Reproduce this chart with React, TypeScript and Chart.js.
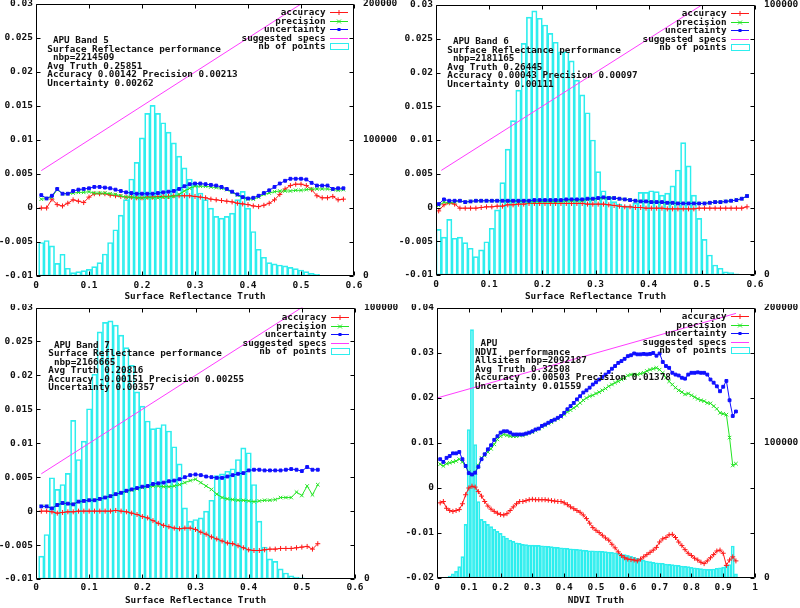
import React, { useEffect, useRef } from "react";
import { Chart, registerables } from "chart.js";

Chart.register(...registerables);

const MONO = "'DejaVu Sans Mono', 'Liberation Mono', monospace";
const RED = "rgb(255,25,25)";
const GREEN = "rgb(35,228,35)";
const BLUE = "rgb(15,15,255)";
const MAGENTA = "rgb(255,60,255)";
const CYAN = "rgb(45,238,238)";
const BIN = 0.01;

// ---------------- Band 5 (first bin / first point at truth 0.01) ----------------
const b5Counts = [
  24600, 26100, 22100, 9300, 16000, 5700, 2500, 3200, 3900, 4900,
  6900, 9800, 16200, 24600, 34000, 44800, 56100, 71300, 83600, 101600,
  119600, 125500, 119600, 112700, 105800, 97900, 88100, 79500, 71300, 67200,
  61000, 56100, 49900, 43800, 42600, 43800, 46200, 56100, 62200, 49900,
  32700, 19700, 13800, 9800, 8900, 8100, 7400, 6400, 5400, 4400,
  3200, 2000, 1200, 500, 200,
];
const b5Accuracy = [
  0, 0, 0.0013, 0.0005, 0.0003, 0.0007, 0.0012, 0.001, 0.0008, 0.0016,
  0.0021, 0.0021, 0.0021, 0.0019, 0.0018, 0.0017, 0.0016, 0.0016, 0.0015, 0.0015,
  0.0016, 0.0016, 0.0017, 0.0017, 0.0017, 0.0018, 0.0018, 0.0018, 0.0018, 0.0017,
  0.0016, 0.0015, 0.0013, 0.0012, 0.0011, 0.001, 0.0009, 0.0007, 0.0006, 0.0005,
  0.0003, 0.0002, 0.0004, 0.0007, 0.0012, 0.002, 0.0028, 0.0033, 0.0035, 0.0035,
  0.0033, 0.0027, 0.0018, 0.0015, 0.0015, 0.0017, 0.0012, 0.0013,
];
const b5Precision = [
  0.0013, 0.0014, 0.0016, 0.0027, 0.0021, 0.0021, 0.0022, 0.0023, 0.0023, 0.0024,
  0.0022, 0.0022, 0.0022, 0.0021, 0.002, 0.0018, 0.0016, 0.0016, 0.0015, 0.0015,
  0.0015, 0.0015, 0.0015, 0.0016, 0.0016, 0.0017, 0.002, 0.0025, 0.0029, 0.0032,
  0.0032, 0.0032, 0.0031, 0.003, 0.0029, 0.0027, 0.0023, 0.0019, 0.0015, 0.0013,
  0.0013, 0.0016, 0.002, 0.0022, 0.0024, 0.0025, 0.0025, 0.0025, 0.0026, 0.0026,
  0.0027, 0.0028, 0.0028, 0.0028, 0.0028, 0.0027, 0.0026, 0.0027,
];
const b5Uncertainty = [
  0.0019, 0.0014, 0.0018, 0.0028, 0.0021, 0.0021, 0.0025, 0.0027, 0.0028, 0.0029,
  0.0031, 0.0031, 0.003, 0.0029, 0.0027, 0.0025, 0.0023, 0.0022, 0.0021, 0.0021,
  0.0021, 0.0021, 0.0022, 0.0023, 0.0024, 0.0025, 0.0028, 0.0032, 0.0035, 0.0036,
  0.0036, 0.0035, 0.0034, 0.0033, 0.0031, 0.0028, 0.0024, 0.002, 0.0016, 0.0014,
  0.0015, 0.0018, 0.0022, 0.0026, 0.0031, 0.0036, 0.004, 0.0043, 0.0043, 0.0043,
  0.0042, 0.0037, 0.0033, 0.0033, 0.0033, 0.0028, 0.0029, 0.0029,
];

// ---------------- Band 6 (first bin / first point at truth 0.005) ----------------
const b6Counts = [
  16900, 14000, 20600, 13600, 14000, 12000, 9900, 6800, 9300, 12300,
  17300, 24100, 34200, 46600, 57200, 68500, 85800, 95500, 97800, 95100,
  92600, 89500, 86200, 82700, 82700, 79300, 72200, 66700, 60100, 50000,
  38300, 31200, 29000, 27200, 26300, 25600, 25600, 26600, 30600, 30600,
  31200, 30900, 29600, 30300, 33000, 38900, 49000, 40400, 29600, 21000,
  13200, 7400, 3700, 2500, 1200, 900, 400, 100,
];
const b6Accuracy = [
  -0.0005, 0.0004, 0.0007, 0.0005, -0.0001, -0.0001, -0.0001, -0.0001, 0, 0.0001,
  0.0001, 0.0002, 0.0002, 0.0004, 0.0004, 0.0005, 0.0005, 0.0006, 0.0006, 0.0006,
  0.0006, 0.0006, 0.0006, 0.0006, 0.0006, 0.0006, 0.0006, 0.0006, 0.0005, 0.0005,
  0.0005, 0.0005, 0.0004, 0.0003, 0.0002, 0.0001, 0.0001, 0, 0, -0.0001,
  -0.0001, -0.0001, -0.0001, -0.0002, -0.0002, -0.0002, -0.0002, -0.0002, -0.0002, -0.0001,
  -0.0001, -0.0001, -0.0001, -0.0001, -0.0001, -0.0001, -0.0001, -0.0001, 0.0001,
];
const b6Precision = [
  0.0003, 0.0008, 0.0007, 0.0008, 0.001, 0.0008, 0.0009, 0.001, 0.001, 0.001,
  0.001, 0.001, 0.001, 0.0009, 0.0009, 0.0009, 0.0009, 0.0008, 0.0009, 0.0009,
  0.0009, 0.0009, 0.0009, 0.0009, 0.001, 0.001, 0.001, 0.001, 0.0012, 0.0012,
  0.0013, 0.0014, 0.0014, 0.0014, 0.0013, 0.0012, 0.0011, 0.001, 0.0009, 0.0009,
  0.0008, 0.0008, 0.0007, 0.0007, 0.0006, 0.0006, 0.0006, 0.0006, 0.0006, 0.0006,
  0.0006, 0.0007, 0.0008, 0.0008, 0.0009, 0.001, 0.0011, 0.0013, 0.0017,
];
const b6Uncertainty = [
  0.0005, 0.0012, 0.001, 0.001, 0.001, 0.0008, 0.0009, 0.001, 0.001, 0.001,
  0.001, 0.001, 0.001, 0.001, 0.001, 0.001, 0.001, 0.001, 0.0011, 0.0011,
  0.0011, 0.0011, 0.0011, 0.0011, 0.0012, 0.0012, 0.0012, 0.0012, 0.0013, 0.0013,
  0.0014, 0.0015, 0.0014, 0.0014, 0.0013, 0.0012, 0.0011, 0.001, 0.0009, 0.0009,
  0.0008, 0.0008, 0.0008, 0.0007, 0.0007, 0.0006, 0.0006, 0.0006, 0.0006, 0.0006,
  0.0006, 0.0007, 0.0008, 0.0008, 0.0009, 0.001, 0.0011, 0.0013, 0.0017,
];

// ---------------- Band 7 (first bin / first point at truth 0.01) ----------------
const b7Counts = [
  8400, 16400, 37300, 33000, 34800, 38900, 58400, 44000, 50800, 62700,
  75400, 91000, 94500, 95100, 93500, 89800, 85200, 78700, 68900, 63700,
  58200, 55400, 55700, 56900, 54500, 48700, 42400, 26200, 21300, 21900,
  22500, 25000, 29000, 38100, 38700, 39700, 40600, 44000, 48300, 46500,
  34800, 21300, 11800, 7400, 6500, 3700, 2200, 1200, 700, 400,
  100,
];
const b7Accuracy = [
  0, 0, -0.0001, -0.0003, -0.0002, -0.0001, -0.0001, 0, 0, 0,
  0, 0, 0, 0, 0.0001, 0, -0.0001, -0.0003, -0.0005, -0.0008,
  -0.001, -0.0014, -0.0018, -0.0021, -0.0023, -0.0025, -0.0026, -0.0025, -0.0025, -0.0027,
  -0.0031, -0.0034, -0.0038, -0.0041, -0.0044, -0.0047, -0.0048, -0.0051, -0.0054, -0.0057,
  -0.0058, -0.0058, -0.0057, -0.0056, -0.0056, -0.0055, -0.0055, -0.0055, -0.0054, -0.0053,
  -0.0052, -0.0056, -0.0048,
];
const b7Precision = [
  0.0007, 0.0007, 0.0004, 0.0009, 0.0012, 0.0011, 0.001, 0.0014, 0.0015, 0.0016,
  0.0016, 0.0018, 0.002, 0.0022, 0.0025, 0.0027, 0.0029, 0.0031, 0.0033, 0.0035,
  0.0036, 0.0037, 0.0037, 0.0036, 0.0036, 0.0037, 0.0039, 0.0042, 0.0045, 0.0047,
  0.0042, 0.0037, 0.0032, 0.0025, 0.002, 0.0018, 0.0017, 0.0016, 0.0016, 0.0015,
  0.0014, 0.0015, 0.0016, 0.0016, 0.0017, 0.002, 0.002, 0.002, 0.0028, 0.0023,
  0.0037, 0.0024, 0.0039,
];
const b7Uncertainty = [
  0.0007, 0.0007, 0.0004, 0.0009, 0.0012, 0.0011, 0.001, 0.0014, 0.0015, 0.0016,
  0.0016, 0.0018, 0.002, 0.0022, 0.0025, 0.0027, 0.003, 0.0032, 0.0034, 0.0036,
  0.0037, 0.004, 0.0041, 0.0042, 0.0044, 0.0045, 0.0047, 0.005, 0.0053, 0.0054,
  0.0053, 0.0051, 0.005, 0.0049, 0.0049, 0.0051, 0.0053, 0.0055, 0.0056, 0.006,
  0.0061, 0.0061, 0.006, 0.006, 0.006, 0.006, 0.0061, 0.0062, 0.0061, 0.0059,
  0.0065, 0.0061, 0.0061,
];

// ---------------- NDVI (first bin / first point at truth 0.01) ----------------
const ndviCounts = [
  0, 200, 700, 1500, 3000, 4900, 8400, 15800, 39700, 110000,
  184000, 98900, 56700, 43400, 41900, 39700, 38000, 36000, 34500, 33000,
  31100, 29600, 28100, 27100, 26100, 25600, 24900, 24700, 24400, 24400,
  24200, 24200, 23900, 23700, 23400, 23200, 22900, 22700, 22400, 22200,
  21900, 21700, 21500, 21200, 21000, 20700, 20500, 20200, 20200, 20000,
  20000, 19700, 19500, 19200, 19000, 18700, 18200, 17800, 17300, 16800,
  16000, 15300, 14500, 13800, 13300, 12600, 12100, 11600, 11300, 11100,
  10900, 10400, 10100, 9900, 9600, 9400, 8900, 8600, 8400, 7900,
  7600, 7200, 6900, 6700, 6400, 6400, 6700, 7200, 7600, 8100,
  8900, 9900, 23700, 3000,
];
const ndviAccuracy = [
  -0.0033, -0.003, -0.0045, -0.005, -0.0052, -0.005, -0.0048, -0.0035, -0.0015, 0,
  0.0004, 0.0002, -0.0008, -0.0018, -0.003, -0.004, -0.0047, -0.0052, -0.0056, -0.0059,
  -0.006, -0.0057, -0.005, -0.0042, -0.0035, -0.003, -0.003, -0.0028, -0.0026, -0.0025,
  -0.0026, -0.0026, -0.0026, -0.0026, -0.0027, -0.0028, -0.0029, -0.003, -0.003, -0.0033,
  -0.0037, -0.0042, -0.0046, -0.005, -0.0054, -0.006, -0.0068, -0.0078, -0.0088, -0.0094,
  -0.0099, -0.0105, -0.0111, -0.0116, -0.0125, -0.0133, -0.0142, -0.015, -0.0155, -0.0158,
  -0.0159, -0.016, -0.0162, -0.0158, -0.0153, -0.0148, -0.0143, -0.0138, -0.0132, -0.012,
  -0.0113, -0.011, -0.0104, -0.0103, -0.011, -0.012, -0.0128, -0.0137, -0.0145, -0.015,
  -0.0156, -0.016, -0.0165, -0.0168, -0.0162, -0.0155, -0.0148, -0.014, -0.0138, -0.0145,
  -0.0172, -0.016, -0.0153, -0.0162,
];
const ndviPrecision = [
  0.0053, 0.0049, 0.0054, 0.0056, 0.0058, 0.006, 0.0064, 0.0058, 0.0048, 0.0035,
  0.003, 0.0034, 0.005, 0.0067, 0.0072, 0.008, 0.0087, 0.0097, 0.0108, 0.0115,
  0.0119, 0.0117, 0.0115, 0.0115, 0.0115, 0.0117, 0.0117, 0.0119, 0.0123, 0.0124,
  0.0128, 0.0132, 0.0136, 0.0139, 0.0143, 0.0146, 0.0151, 0.0154, 0.0158, 0.0163,
  0.0169, 0.0173, 0.0178, 0.0183, 0.0189, 0.0195, 0.02, 0.0204, 0.0206, 0.021,
  0.0213, 0.0217, 0.0221, 0.0226, 0.023, 0.0234, 0.0237, 0.0241, 0.0245, 0.025,
  0.0252, 0.0252, 0.0252, 0.0254, 0.0256, 0.026, 0.0263, 0.0265, 0.0267, 0.0263,
  0.0256, 0.0245, 0.0237, 0.023, 0.0223, 0.0217, 0.0213, 0.0208, 0.021, 0.0206,
  0.0202, 0.0198, 0.0195, 0.0193, 0.0189, 0.0188, 0.0182, 0.0176, 0.0167, 0.0165,
  0.0163, 0.0112, 0.005, 0.0054,
];
const ndviUncertainty = [
  0.0064, 0.0058, 0.0067, 0.0071, 0.0077, 0.0077, 0.008, 0.0064, 0.0049, 0.0033,
  0.003, 0.0034, 0.0047, 0.0064, 0.0075, 0.0086, 0.0095, 0.0107, 0.0115, 0.0123,
  0.0126, 0.0126, 0.0123, 0.0119, 0.0119, 0.0119, 0.0119, 0.0121, 0.0123, 0.0126,
  0.013, 0.0132, 0.0138, 0.0141, 0.0145, 0.0149, 0.0152, 0.0156, 0.016, 0.0167,
  0.0175, 0.0182, 0.0189, 0.0197, 0.0204, 0.0212, 0.0217, 0.0223, 0.023, 0.0235,
  0.0241, 0.0247, 0.0252, 0.0258, 0.0265, 0.0271, 0.0278, 0.0282, 0.0287, 0.0293,
  0.0295, 0.0299, 0.0297, 0.0297, 0.0298, 0.0297, 0.0298, 0.03, 0.0294, 0.0299,
  0.028, 0.0271, 0.0267, 0.0256, 0.0252, 0.025, 0.0245, 0.0243, 0.0252, 0.0256,
  0.0256, 0.0257, 0.0256, 0.0256, 0.0252, 0.0241, 0.0234, 0.0226, 0.0215, 0.0225,
  0.0238, 0.0195, 0.016, 0.017,
];

// suggested specification lines (read at their end points)
const reflSpecTruth = [0.01, 0.5, 0.6];
const reflSpecValue = [0.0055, 0.03, 0.035];
const ndviSpecTruth = [0, 0.94];
const ndviSpecValue = [0.02, 0.0388];

const keyLabels = ["accuracy", "precision", "uncertainty", "suggested specs", "nb of points"];

type PanelCfg = {
  left: number; top: number;
  plotLeft: number; plotRight: number; plotTop: number; plotBottom: number;
  xMax: number; yMin: number; yMax: number; yStep: number; y1Max: number;
  xTitle: string; notes: string[]; noteDx: number; noteDy: number; keyDy: number; xLabelPad: number;
  lineX0: number; barX0: number;
  counts: number[]; accuracy: number[]; precision: number[]; uncertainty: number[];
  specX: number[]; specY: number[];
};

const panels: PanelCfg[] = [
  {
    left: 0, top: 0, plotLeft: 36, plotRight: 354, plotTop: 4, plotBottom: 276,
    xMax: 0.6, yMin: -0.01, yMax: 0.03, yStep: 0.005, y1Max: 200000,
    xTitle: "Surface Reflectance Truth",
    notes: [" APU Band 5", "Surface Reflectance performance", " nbp=2214509", "Avg Truth 0.25851", "Accuracy 0.00142 Precision 0.00213", "Uncertainty 0.00262"],
    noteDx: 11.3, noteDy: 37, keyDy: 8.3, xLabelPad: 4, lineX0: 0.01, barX0: 0.01,
    counts: b5Counts, accuracy: b5Accuracy, precision: b5Precision, uncertainty: b5Uncertainty,
    specX: reflSpecTruth, specY: reflSpecValue,
  },
  {
    left: 400, top: 0, plotLeft: 36, plotRight: 355, plotTop: 5, plotBottom: 275,
    xMax: 0.6, yMin: -0.01, yMax: 0.03, yStep: 0.005, y1Max: 100000,
    xTitle: "Surface Reflectance Truth",
    notes: [" APU Band 6", "Surface Reflectance performance", " nbp=2181165", "Avg Truth 0.26445", "Accuracy 0.00043 Precision 0.00097", "Uncertainty 0.00111"],
    noteDx: 11.3, noteDy: 37, keyDy: 8.3, xLabelPad: 4, lineX0: 0.005, barX0: 0.005,
    counts: b6Counts, accuracy: b6Accuracy, precision: b6Precision, uncertainty: b6Uncertainty,
    specX: reflSpecTruth, specY: reflSpecValue,
  },
  {
    left: 0, top: 304, plotLeft: 36, plotRight: 355, plotTop: 3, plotBottom: 275,
    xMax: 0.6, yMin: -0.01, yMax: 0.03, yStep: 0.005, y1Max: 100000,
    xTitle: "Surface Reflectance Truth",
    notes: [" APU Band 7", "Surface Reflectance performance", " nbp=2166665", "Avg Truth 0.20816", "Accuracy -0.00151 Precision 0.00255", "Uncertainty 0.00357"],
    noteDx: 12.3, noteDy: 38, keyDy: 9.5, xLabelPad: 2.5, lineX0: 0.01, barX0: 0.01,
    counts: b7Counts, accuracy: b7Accuracy, precision: b7Precision, uncertainty: b7Uncertainty,
    specX: reflSpecTruth, specY: reflSpecValue,
  },
  {
    left: 400, top: 304, plotLeft: 37, plotRight: 355, plotTop: 4, plotBottom: 274,
    xMax: 1, yMin: -0.02, yMax: 0.04, yStep: 0.01, y1Max: 200000,
    xTitle: "NDVI Truth",
    notes: [" APU", "NDVI  performance", "Allsites nbp=2092187", "Avg Truth 0.32508", "Accuracy -0.00503 Precision 0.01378", "Uncertainty 0.01559"],
    noteDx: 38, noteDy: 36, keyDy: 8, xLabelPad: 4, lineX0: 0.01, barX0: 0.01,
    counts: ndviCounts, accuracy: ndviAccuracy, precision: ndviPrecision, uncertainty: ndviUncertainty,
    specX: ndviSpecTruth, specY: ndviSpecValue,
  },
];

const W = 400;
const H = 304;
const TEXT_FONT = `bold 9.3px ${MONO}`;

function fmtNum(v: number | string): string {
  const n = Math.round(Number(v) * 1e6) / 1e6;
  return String(n);
}
function r3(v: number): number {
  return Math.round(v * 1000) / 1000;
}

function makeFramePlugin(p: PanelCfg) {
  return {
    id: "gnuplotFrame",
    afterDraw(chart: any) {
      const ctx = chart.ctx as CanvasRenderingContext2D;
      const a = chart.chartArea;
      const L = Math.round(a.left) + 0.5;
      const R = Math.round(a.right) - 0.5;
      const T = Math.round(a.top) + 0.5;
      const B = Math.round(a.bottom) - 0.5;
      const TL = 4;
      ctx.save();
      ctx.strokeStyle = "#000";
      ctx.lineWidth = 1;
      ctx.beginPath();
      ctx.rect(L, T, R - L, B - T);
      const ys = chart.scales.y;
      const xs = chart.scales.x;
      ys.ticks.forEach((t: any) => {
        const y = Math.round(ys.getPixelForValue(t.value)) + 0.5;
        ctx.moveTo(L, y); ctx.lineTo(L + TL, y);
        ctx.moveTo(R, y); ctx.lineTo(R - TL, y);
      });
      xs.ticks.forEach((t: any) => {
        const x = Math.round(xs.getPixelForValue(t.value)) + 0.5;
        ctx.moveTo(x, B); ctx.lineTo(x, B - TL);
        ctx.moveTo(x, T); ctx.lineTo(x, T + TL);
      });
      ctx.stroke();

      // annotation block
      ctx.fillStyle = "#111";
      ctx.font = TEXT_FONT;
      ctx.textBaseline = "middle";
      ctx.textAlign = "left";
      p.notes.forEach((s, i) => {
        ctx.fillText(s, a.left + p.noteDx, a.top + p.noteDy + i * 8.45);
      });

      // key
      const colors = [RED, GREEN, BLUE, MAGENTA, CYAN];
      const tx = a.right - 28.5;
      const x1 = a.right - 24;
      const x2 = a.right - 6;
      keyLabels.forEach((lab, i) => {
        const y = Math.round(a.top + p.keyDy + i * 8.5) + 0.5;
        ctx.fillStyle = "#111";
        ctx.textAlign = "right";
        ctx.fillText(lab, tx, y);
        ctx.strokeStyle = colors[i];
        ctx.fillStyle = colors[i];
        ctx.lineWidth = 1;
        if (i === 4) {
          ctx.strokeRect(x1 + 0.5, y - 3, x2 - x1, 6);
        } else {
          ctx.beginPath();
          ctx.moveTo(x1, y);
          ctx.lineTo(x2, y);
          ctx.stroke();
          const cx = (x1 + x2) / 2;
          ctx.beginPath();
          if (i === 0) {
            ctx.moveTo(cx - 2.5, y); ctx.lineTo(cx + 2.5, y);
            ctx.moveTo(cx, y - 2.5); ctx.lineTo(cx, y + 2.5);
            ctx.stroke();
          } else if (i === 1) {
            ctx.moveTo(cx - 2, y - 2); ctx.lineTo(cx + 2, y + 2);
            ctx.moveTo(cx - 2, y + 2); ctx.lineTo(cx + 2, y - 2);
            ctx.stroke();
          } else if (i === 2) {
            ctx.fillRect(cx - 1.5, y - 1.5, 3, 3);
          }
        }
      });
      ctx.restore();
    },
  };
}

function buildConfig(p: PanelCfg): any {
  const tickFont = { family: MONO, size: 9.5, weight: "bold" };
  const noGrid = { display: false, drawTicks: false, tickLength: 0 };
  const lineDs = (label: string, vals: number[], color: string, style: string, radius: number, order: number) => ({
    type: "line",
    label,
    data: vals.map((v, i) => ({ x: r3(p.lineX0 + i * BIN), y: v })),
    yAxisID: "y",
    xAxisID: "x",
    borderColor: color,
    backgroundColor: color,
    borderWidth: 1,
    pointStyle: style,
    pointRadius: radius,
    pointHoverRadius: radius,
    pointBorderWidth: 1,
    pointBorderColor: color,
    pointBackgroundColor: color,
    tension: 0,
    fill: false,
    order,
  });
  return {
    type: "line",
    data: {
      datasets: [
        {
          type: "bar",
          label: "nb of points",
          data: p.counts.map((c, i) => ({ x: r3(p.barX0 + i * BIN), y: c })),
          yAxisID: "y1",
          xAxisID: "x",
          backgroundColor: "rgba(255,255,255,0)",
          borderColor: CYAN,
          borderWidth: 1,
          borderSkipped: false,
          barPercentage: 1,
          categoryPercentage: 1,
          order: 5,
        },
        lineDs("accuracy", p.accuracy, RED, "cross", 2.5, 4),
        lineDs("precision", p.precision, GREEN, "crossRot", 2.5, 3),
        lineDs("uncertainty", p.uncertainty, BLUE, "rect", 2, 2),
        {
          type: "line",
          label: "suggested specs",
          data: p.specX.map((x, i) => ({ x, y: p.specY[i] })),
          yAxisID: "y",
          xAxisID: "x",
          borderColor: MAGENTA,
          borderWidth: 1,
          pointRadius: 0,
          tension: 0,
          fill: false,
          order: 1,
        },
      ],
    },
    options: {
      responsive: false,
      animation: false,
      devicePixelRatio: 1,
      events: [],
      layout: { padding: { top: p.plotTop, left: 0, right: 0, bottom: 0 } },
      plugins: { legend: { display: false }, tooltip: { enabled: false }, title: { display: false } },
      scales: {
        x: {
          type: "linear",
          position: "bottom",
          min: 0,
          max: p.xMax,
          offset: false,
          grid: noGrid,
          border: { display: false },
          ticks: {
            stepSize: 0.1, autoSkip: false, maxRotation: 0, minRotation: 0,
            padding: p.xLabelPad, font: tickFont, color: "#111", callback: fmtNum,
          },
          title: {
            display: true, text: p.xTitle, color: "#111",
            font: { family: MONO, size: 9.4, weight: "bold" }, padding: { top: 0, bottom: 1.7 },
          },
          afterFit: (s: any) => { s.height = H - p.plotBottom; s.paddingLeft = 0; s.paddingRight = 0; },
        },
        y: {
          type: "linear",
          position: "left",
          min: p.yMin,
          max: p.yMax,
          grid: noGrid,
          border: { display: false },
          ticks: { stepSize: p.yStep, autoSkip: false, padding: 3, font: tickFont, color: "#111", callback: fmtNum },
          afterFit: (s: any) => { s.width = p.plotLeft; s.paddingTop = 0; s.paddingBottom = 0; },
        },
        y1: {
          type: "linear",
          position: "right",
          min: 0,
          max: p.y1Max,
          grid: noGrid,
          border: { display: false },
          ticks: { stepSize: 100000, autoSkip: false, padding: 9, font: tickFont, color: "#111", callback: fmtNum },
          afterFit: (s: any) => { s.width = W - p.plotRight; s.paddingTop = 0; s.paddingBottom = 0; },
        },
      },
    },
    plugins: [makeFramePlugin(p)],
  };
}

function GnuplotPanel({ cfg }: { cfg: PanelCfg }) {
  const ref = useRef<HTMLCanvasElement | null>(null);
  useEffect(() => {
    const canvas = ref.current;
    if (!canvas) return;
    const chart = new Chart(canvas, buildConfig(cfg));
    return () => chart.destroy();
  }, [cfg]);
  return (
    <canvas
      ref={ref}
      width={W}
      height={H}
      style={{ position: "absolute", left: cfg.left, top: cfg.top, width: W, height: H, display: "block" }}
    />
  );
}

export default function App() {
  return (
    <div style={{ position: "absolute", left: 0, top: 0, width: 800, height: 608, background: "#fff", overflow: "hidden" }}>
      {panels.map((p, i) => (
        <GnuplotPanel key={i} cfg={p} />
      ))}
    </div>
  );
}
